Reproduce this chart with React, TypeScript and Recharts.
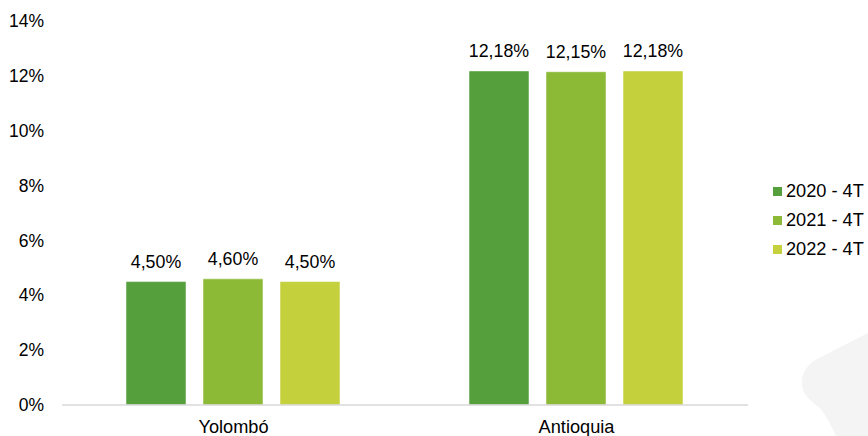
import React from "react";
import { Bar, BarChart, LabelList, XAxis, YAxis } from "recharts";

const categories = ["Yolombó", "Antioquia"];
const series2020 = [4.5, 12.18];
const series2021 = [4.6, 12.15];
const series2022 = [4.5, 12.18];
const yTicks = [0, 2, 4, 6, 8, 10, 12, 14];

const seriesList = [
  { key: "s2020", name: "2020 - 4T", color: "#55A03C" },
  { key: "s2021", name: "2021 - 4T", color: "#8CB936" },
  { key: "s2022", name: "2022 - 4T", color: "#C4D13D" },
];

const chartData = categories.map((name, i) => ({
  name,
  s2020: series2020[i],
  s2021: series2021[i],
  s2022: series2022[i],
}));

const FONT = "'Liberation Sans', Arial, sans-serif";
const pct = (v: number) => v.toFixed(2).replace(".", ",") + "%";

const LegendBox = () => (
  <div
    style={{
      position: "absolute",
      left: 773,
      top: 177,
      fontFamily: FONT,
      fontSize: 18.2,
      color: "#000",
    }}
  >
    {seriesList.map((s) => (
      <div
        key={s.key}
        style={{ display: "flex", alignItems: "center", height: 29 }}
      >
        <span
          style={{
            width: 9,
            height: 9,
            background: s.color,
            marginRight: 4,
            display: "inline-block",
          }}
        />
        <span style={{ whiteSpace: "nowrap" }}>{s.name}</span>
      </div>
    ))}
  </div>
);

export default function App() {
  return (
    <div
      style={{
        position: "fixed",
        left: 0,
        top: 0,
        width: 868,
        height: 436,
        background: "#fff",
        overflow: "hidden",
      }}
    >
      <svg
        width={868}
        height={436}
        style={{ position: "absolute", left: 0, top: 0 }}
      >
        <path
          d="M868 333 L815 360 Q798 372 803 390 Q806 398 820 408 Q828 418 836 436 L868 436 Z"
          fill="#f4f4f4"
        />
      </svg>
      <div style={{ position: "absolute", left: 0, top: 0 }}>
        <BarChart
          width={868}
          height={436}
          data={chartData}
          margin={{ top: 21, right: 120, bottom: 0, left: 0 }}
          barCategoryGap={64}
          barGap={17}
        >
          <XAxis
            dataKey="name"
            height={31}
            tickLine={false}
            tickMargin={9}
            axisLine={{ stroke: "#d9d9d9", strokeWidth: 1.5 }}
            tick={{ fill: "#000", fontSize: 18.2, fontFamily: FONT }}
          />
          <YAxis
            width={62}
            domain={[0, 14]}
            ticks={yTicks}
            interval={0}
            axisLine={false}
            tickLine={false}
            tickMargin={12}
            tickFormatter={(v: number) => `${v}%`}
            tick={{ fill: "#000", fontSize: 17.5, fontFamily: FONT }}
          />
          {seriesList.map((s) => (
            <Bar
              key={s.key}
              dataKey={s.key}
              name={s.name}
              fill={s.color}
              stroke="rgba(255,255,255,0.5)"
              strokeWidth={1}
              isAnimationActive={false}
            >
              <LabelList
                dataKey={s.key}
                position="top"
                offset={14}
                formatter={(v: number) => pct(v)}
                style={{ fill: "#000", fontSize: 17.8, fontFamily: FONT }}
              />
            </Bar>
          ))}
        </BarChart>
      </div>
      <LegendBox />
    </div>
  );
}
